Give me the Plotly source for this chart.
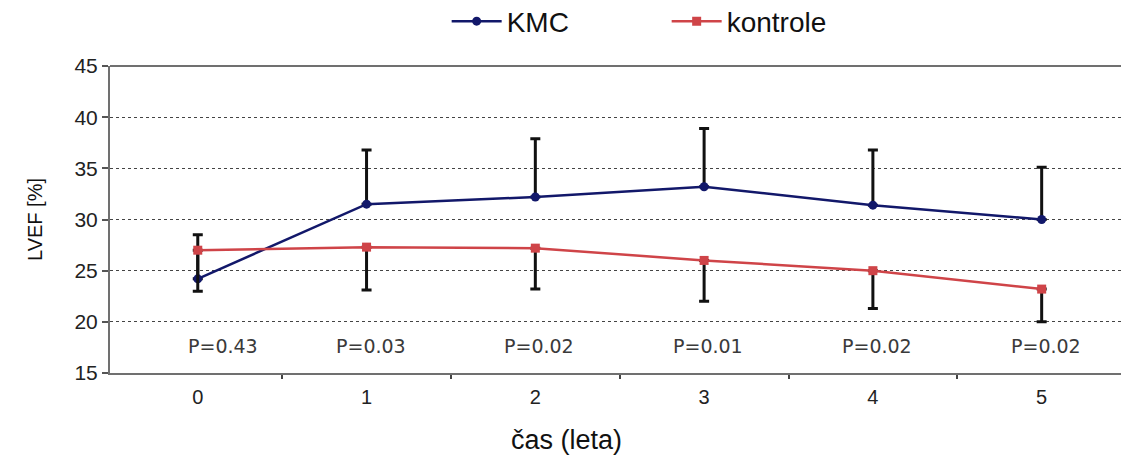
import plotly.graph_objects as go

years = [0, 1, 2, 3, 4, 5]
kmc_mean = [24.2, 31.5, 32.2, 33.2, 31.4, 30.0]
kmc_upper = [28.5, 36.8, 37.9, 38.9, 36.8, 35.1]
ctrl_mean = [27.0, 27.3, 27.2, 26.0, 25.0, 23.2]
ctrl_lower = [23.0, 23.1, 23.2, 22.0, 21.3, 20.0]
p_labels = ["P=0.43", "P=0.03", "P=0.02", "P=0.01", "P=0.02", "P=0.02"]
p_y = 17.6
y_ticks = [15, 20, 25, 30, 35, 40, 45]

kmc_plus = [u - m for u, m in zip(kmc_upper, kmc_mean)]
ctrl_minus = [m - l for m, l in zip(ctrl_mean, ctrl_lower)]

fig = go.Figure()
fig.add_trace(go.Scatter(
    x=years, y=kmc_mean, name="KMC", mode="lines+markers",
    line=dict(color="#12186a", width=2.5),
    marker=dict(symbol="circle", size=9, color="#12186a"),
    error_y=dict(type="data", symmetric=False, array=kmc_plus,
                 arrayminus=[0] * len(years), color="#111111", thickness=3, width=5),
))
fig.add_trace(go.Scatter(
    x=years, y=ctrl_mean, name="kontrole", mode="lines+markers",
    line=dict(color="#cf4448", width=2.5),
    marker=dict(symbol="square", size=9, color="#cf4448"),
    error_y=dict(type="data", symmetric=False, array=[0] * len(years),
                 arrayminus=ctrl_minus, color="#111111", thickness=3, width=5),
))

for i, (xv, lab) in enumerate(zip(years, p_labels)):
    fig.add_annotation(x=xv, y=p_y, text=lab, showarrow=False,
                       xshift=25 if i == 0 else 4,
                       font=dict(family="DejaVu Sans", size=19, color="#3a3a3a"))

fig.add_annotation(x=0.452, y=-0.218, xref="paper", yref="paper", text="čas (leta)",
                   showarrow=False, xanchor="center", yanchor="middle",
                   font=dict(size=27, color="#111111"))

fig.add_shape(type="line", xref="paper", yref="paper", x0=0, x1=1.01, y0=1, y1=1,
              line=dict(color="#707070", width=2))

fig.update_layout(
    width=1121, height=457,
    margin=dict(l=110, r=0, t=66, b=84, autoexpand=False),
    paper_bgcolor="white", plot_bgcolor="white",
    font=dict(family="Liberation Sans, Arial, sans-serif", color="#222222"),
    showlegend=True,
    legend=dict(orientation="h", x=0.333, xanchor="left", y=1.145, yanchor="middle",
                font=dict(size=28, color="#111111"), entrywidth=155, itemwidth=50,
                bgcolor="rgba(0,0,0,0)"),
)
fig.update_xaxes(
    range=[-0.52, 5.47], tickmode="array", tickvals=years,
    ticktext=[str(v) for v in years], ticks="", showgrid=False,
    showline=True, linecolor="#707070", linewidth=2, mirror=False,
    tickfont=dict(size=20, color="#222222"), zeroline=False, automargin=False,
    ticklabelstandoff=5,
    minor=dict(tickvals=[v + 0.5 for v in years[:-1]], ticks="outside",
               ticklen=4, tickcolor="#444444", tickwidth=2, showgrid=False),
)
fig.update_yaxes(
    range=[15, 45], tickmode="array", tickvals=y_ticks,
    ticks="outside", ticklen=6, tickcolor="#555555", tickwidth=2,
    showline=True, linecolor="#707070", linewidth=2, automargin=False, mirror=False,
    showgrid=True, gridcolor="#444444", griddash="dot", gridwidth=1.3,
    zeroline=False, tickfont=dict(size=21, color="#222222"),
    title=dict(text="LVEF [%]", font=dict(size=20, color="#111111"), standoff=26),
)

fig.write_html(
    "out.html",
    config={"displayModeBar": False},
    post_script="document.body.style.margin='0';document.body.style.padding='0';"
                "document.documentElement.style.overflow='hidden';"
                "document.body.style.overflow='hidden';",
)
